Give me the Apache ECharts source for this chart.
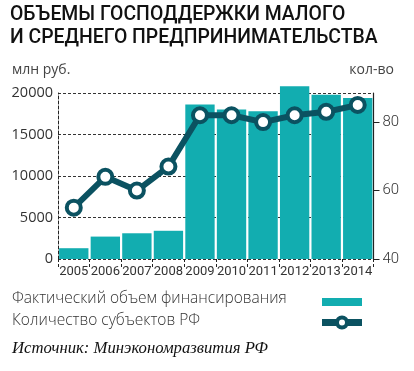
<!DOCTYPE html>
<html>
<head>
<meta charset="utf-8">
<script src="https://cdn.jsdelivr.net/npm/echarts@6/dist/echarts.min.js"></script>
<style>
html,body{margin:0;padding:0;background:#fff;}
#chart{width:414px;height:371px;}
</style>
</head>
<body>
<div id="chart"></div>
<script>
var categories = ['2005','2006','2007','2008','2009','2010','2011','2012','2013','2014'];
var fundingValues = [1300, 2700, 3100, 3400, 18600, 18000, 17800, 20800, 19800, 19400];
var regionCounts = [55, 64, 60, 67, 82, 82, 80, 82, 83, 85];
var leftTicks = [0, 5000, 10000, 15000, 20000];
var rightTicks = [40, 60, 80];

var titleLines = ['ОБЪЕМЫ ГОСПОДДЕРЖКИ МАЛОГО', 'И СРЕДНЕГО ПРЕДПРИНИМАТЕЛЬСТВА'];
var leftUnit = 'млн руб.';
var rightUnit = 'кол-во';
var legendNames = ['Фактический объем финансирования', 'Количество субъектов РФ'];
var sourceText = 'Источник: Минэкономразвития РФ';

var BAR = '#12adb0';
var LINE = '#0b5261';

var chart = echarts.init(document.getElementById('chart'));
chart.setOption({
  animation: false,
  backgroundColor: '#fff',
  grid: {left: 58, right: 40.5, top: 93, bottom: 112},
  xAxis: {
    type: 'category',
    data: categories,
    axisLine: {show: false},
    axisTick: {show: true, interval: 0, length: 8, lineStyle: {color: '#222', type: [3, 2]}},
    axisLabel: {interval: 0, margin: 6, color: '#333', fontFamily: 'Roboto', fontSize: 13}
  },
  yAxis: [{
    type: 'value',
    min: leftTicks[0],
    max: leftTicks[leftTicks.length - 1],
    interval: leftTicks[1] - leftTicks[0],
    axisLine: {show: true, lineStyle: {color: '#222', type: [3, 2]}},
    axisTick: {show: false},
    axisLabel: {margin: 5, color: '#333', fontFamily: 'Open Sans', fontSize: 14.5,
      formatter: function (v) { return String(v); }},
    splitLine: {show: true, lineStyle: {color: '#333', type: [3, 2]}}
  }, {
    type: 'value',
    position: 'right',
    min: rightTicks[0],
    max: 88.5,
    interval: rightTicks[1] - rightTicks[0],
    axisLine: {show: true, lineStyle: {color: '#222', width: 1.2}},
    axisTick: {show: true, length: 6, lineStyle: {color: '#222'}},
    axisLabel: {margin: 9, color: '#333', fontFamily: 'Roboto', fontWeight: 300, fontSize: 15, showMaxLabel: false,
      formatter: function (v) { return rightTicks.indexOf(v) >= 0 ? String(v) : ''; }},
    splitLine: {show: false}
  }],
  series: [{
    type: 'bar',
    name: legendNames[0],
    data: fundingValues,
    barCategoryGap: '7%',
    clip: false,
    itemStyle: {color: BAR},
    z: 2
  }, {
    type: 'line',
    name: legendNames[1],
    yAxisIndex: 1,
    data: regionCounts,
    lineStyle: {color: LINE, width: 6},
    symbol: 'circle',
    symbolSize: 14,
    showAllSymbol: true,
    itemStyle: {color: '#fff', borderColor: LINE, borderWidth: 4},
    z: 5
  }],
  graphic: [
    {type: 'text', left: 10, top: 5.5, style: {text: titleLines[0], font: '500 19.4px Roboto', fill: '#111'}},
    {type: 'text', left: 10, top: 29, style: {text: titleLines[1], font: '500 19.4px Roboto', fill: '#111'}},
    {type: 'text', left: 12, top: 63, style: {text: leftUnit, font: '14px "Open Sans"', fill: '#444'}},
    {type: 'text', right: 20, top: 63, style: {text: rightUnit, font: '14px "Open Sans"', fill: '#444'}},
    {type: 'text', left: 12, top: 290.5, style: {text: legendNames[0], font: '300 15.5px "Open Sans"', fill: '#333'}},
    {type: 'text', left: 12, top: 312.5, style: {text: legendNames[1], font: '300 15.5px "Open Sans"', fill: '#333'}},
    {type: 'rect', shape: {x: 322, y: 298, width: 40, height: 8}, style: {fill: BAR}},
    {type: 'line', shape: {x1: 322, y1: 322.5, x2: 362, y2: 322.5}, style: {stroke: LINE, lineWidth: 7}},
    {type: 'circle', shape: {cx: 342, cy: 322.5, r: 5}, style: {fill: '#fff', stroke: LINE, lineWidth: 4}},
    {type: 'text', left: 12, top: 340.5, style: {text: sourceText, font: 'italic 16.7px "Liberation Serif"', fill: '#111'}}
  ]
});
</script>
</body>
</html>
